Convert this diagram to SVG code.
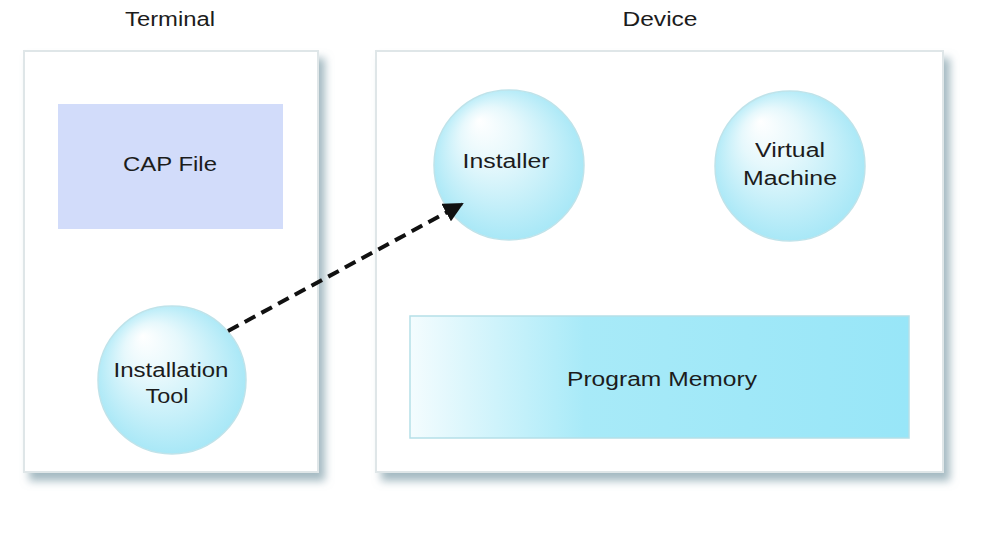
<svg xmlns="http://www.w3.org/2000/svg" width="990" height="552" viewBox="0 0 990 552">
<style>
text{font-family:"Liberation Sans",Arial,sans-serif;fill:#1c1c1c;text-anchor:middle;font-size:20px}
.panel{fill:#ffffff;stroke:#dfe6e8;stroke-width:2}
.bubble{fill:url(#bub);stroke:#bfe3ea;stroke-width:1.5}
</style>
<defs>
<radialGradient id="bub" cx="0.5" cy="0.5" r="0.55" fx="0.3" fy="0.2">
<stop offset="0" stop-color="#ffffff"/>
<stop offset="0.35" stop-color="#e6f8fc"/>
<stop offset="1" stop-color="#a2e6f6"/>
</radialGradient>
<linearGradient id="mem" x1="0" y1="0" x2="1" y2="0">
<stop offset="0" stop-color="#f4fcfe"/>
<stop offset="0.35" stop-color="#a8eaf8"/>
<stop offset="1" stop-color="#98e6f8"/>
</linearGradient>
<filter id="sh" x="-10%" y="-10%" width="125%" height="125%">
<feGaussianBlur in="SourceAlpha" stdDeviation="4"/>
<feOffset dx="6" dy="8" result="b"/>
<feFlood flood-color="#8ea9b3" flood-opacity="0.8"/>
<feComposite in2="b" operator="in"/>
<feMerge><feMergeNode/><feMergeNode in="SourceGraphic"/></feMerge>
</filter>
<marker id="ah" viewBox="0 0 10 10" refX="9" refY="5" markerWidth="5" markerHeight="5" orient="auto" markerUnits="strokeWidth">
<path d="M0,0 L10,5 L0,10 z" fill="#111"/>
</marker>
</defs>
<rect width="990" height="552" fill="#ffffff"/>
<g id="terminal">
<rect class="panel" x="24" y="51" width="294" height="421" filter="url(#sh)"/>
<text x="170" y="26" textLength="90" lengthAdjust="spacingAndGlyphs">Terminal</text>
</g>
<g id="device">
<rect class="panel" x="376" y="51" width="567" height="421" filter="url(#sh)"/>
<text x="660" y="26" textLength="75" lengthAdjust="spacingAndGlyphs">Device</text>
</g>
<g id="cap-file">
<rect x="58" y="104" width="225" height="125" fill="#d2dcfa"/>
<text x="170" y="171" textLength="94" lengthAdjust="spacingAndGlyphs">CAP File</text>
</g>
<g id="installation-tool">
<circle class="bubble" cx="172" cy="380" r="74"/>
<text x="171" y="377" textLength="115" lengthAdjust="spacingAndGlyphs">Installation</text>
<text x="167" y="403" textLength="43" lengthAdjust="spacingAndGlyphs">Tool</text>
</g>
<g id="installer">
<circle class="bubble" cx="509" cy="165" r="75"/>
<text x="506" y="168" textLength="87" lengthAdjust="spacingAndGlyphs">Installer</text>
</g>
<g id="virtual-machine">
<circle class="bubble" cx="790" cy="166" r="75"/>
<text x="790" y="157" textLength="70" lengthAdjust="spacingAndGlyphs">Virtual</text>
<text x="790" y="185" textLength="94" lengthAdjust="spacingAndGlyphs">Machine</text>
</g>
<g id="program-memory">
<rect x="410" y="316" width="499" height="122" fill="url(#mem)" stroke="#b5dfe8" stroke-width="1.5"/>
<text x="662" y="386" textLength="190" lengthAdjust="spacingAndGlyphs">Program Memory</text>
</g>
<g id="connectors">
<line x1="228" y1="331" x2="462" y2="204" stroke="#111" stroke-width="4" stroke-dasharray="12,7" marker-end="url(#ah)"/>
</g>
</svg>
